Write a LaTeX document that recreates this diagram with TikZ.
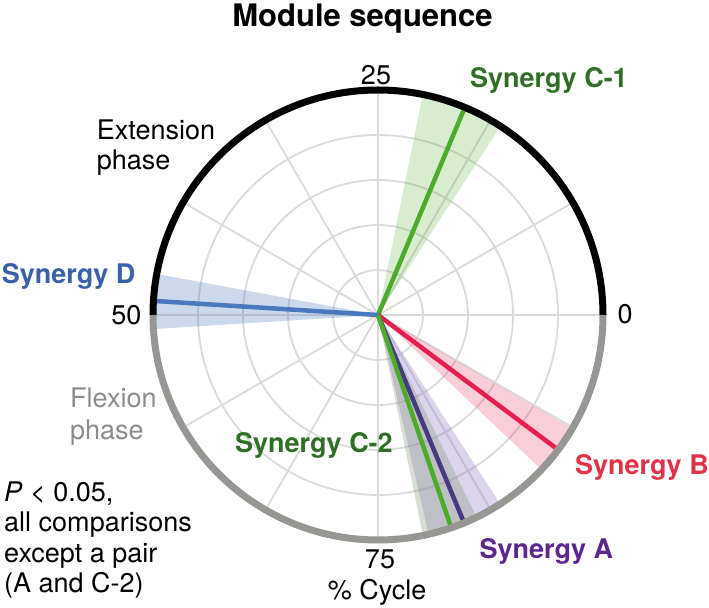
\documentclass[tikz,border=0pt]{standalone}
\usepackage{fontspec}
\setmainfont{TeX Gyre Heros}
\definecolor{gridgray}{RGB}{218,218,218}
\definecolor{ringgray}{RGB}{150,150,146}
\definecolor{lngreen}{RGB}{76,172,42}
\definecolor{labgreen}{RGB}{48,112,38}
\definecolor{lnblue}{RGB}{72,120,190}
\definecolor{labblue}{RGB}{58,96,170}
\definecolor{lnred}{RGB}{232,30,80}
\definecolor{labred}{RGB}{226,50,72}
\definecolor{lnpurple}{RGB}{72,58,128}
\definecolor{labpurple}{RGB}{92,40,142}
\definecolor{shpurple}{RGB}{140,110,195}
\definecolor{shgreytwo}{RGB}{120,150,105}
\definecolor{flexgray}{RGB}{140,140,140}
\begin{document}
\begin{tikzpicture}[x=1bp,y=1bp,
  lab/.style={inner sep=0pt, font=\fontsize{27bp}{30.5bp}\selectfont},
  blab/.style={inner sep=0pt, font=\fontsize{27bp}{30.5bp}\selectfont\bfseries},
  gridline/.style={draw=gridgray, line width=1.8bp},
  ray/.style={line width=4.5bp},
  ringline/.style={line width=7bp}]
\useasboundingbox (0,0) rectangle (709,608);
\coordinate (O) at (378,293);
% grid
\foreach \r in {45,90,135,180} \draw[gridline] (O) circle[radius=\r];
\foreach \a in {0,30,...,330} \draw[gridline] (O) -- ([shift={(\a:225)}]O);
% shaded ranges
\fill[lngreen, opacity=0.22] (O) -- ([shift={(57:225)}]O) arc[start angle=57, end angle=78.5, radius=225] -- cycle;
\fill[lnblue, opacity=0.28] (O) -- ([shift={(169.5:225)}]O) arc[start angle=169.5, end angle=183.6, radius=225] -- cycle;
\fill[lnred, opacity=0.22] (O) -- ([shift={(-43.4:225)}]O) arc[start angle=-43.4, end angle=-30.3, radius=225] -- cycle;
\fill[shpurple, opacity=0.3] (O) -- ([shift={(-77:225)}]O) arc[start angle=-77, end angle=-57.1, radius=225] -- cycle;
\fill[shgreytwo, opacity=0.3] (O) -- ([shift={(-78.5:225)}]O) arc[start angle=-78.5, end angle=-64, radius=225] -- cycle;
% rays
\coordinate (eC1) at ([shift={(67.3:225)}]O);
\coordinate (eD) at ([shift={(176.4:225)}]O);
\coordinate (eB) at ([shift={(-36.8:225)}]O);
\coordinate (eA) at ([shift={(-67.5:225)}]O);
\coordinate (eC2) at ([shift={(-71:225)}]O);
\draw[ray, lngreen] (O) -- (eC1);
\draw[ray, lnblue] (O) -- (eD);
\draw[ray, lnred] (O) -- (eB);
\draw[ray, lnpurple] (O) -- (eA);
\draw[ray, lngreen] (O) -- (eC2);
% ring
\draw[ringline, black] ([shift={(0:225)}]O) arc[start angle=0, end angle=180, radius=225];
\draw[ringline, ringgray] ([shift={(180:225)}]O) arc[start angle=180, end angle=360, radius=225];
% texts
\node[inner sep=0pt, font=\fontsize{31bp}{34bp}\selectfont\bfseries, anchor=base] (title) at (362.5,581) {Module sequence};
\node[lab, anchor=base] (t25) at (376,523) {25};
\node[lab, anchor=base east] (t50) at (141.7,283) {50};
\node[lab, anchor=base west] (t0) at (617.3,284) {0};
\node[lab, anchor=base] (t75) at (380,39.7) {75};
\node[lab, anchor=base] (cyc) at (377,8) {\% Cycle};
\node[blab, text=labgreen, anchor=base west] (sC1) at (470,520) {Synergy C-1};
\node[blab, text=labblue, anchor=base west] (sD) at (1.7,324) {Synergy D};
\node[blab, text=labred, anchor=base west] (sB) at (575,133) {Synergy B};
\node[blab, text=labpurple, anchor=base west] (sA) at (479.3,49) {Synergy A};
\node[blab, text=labgreen, anchor=base west] (sC2) at (235,155.3) {Synergy C-2};
\node[inner sep=0pt, font=\fontsize{27bp}{30bp}\selectfont, align=left, anchor=base west] (ext) at (96.7,438) {Extension\\phase};
\node[inner sep=0pt, font=\fontsize{27bp}{32bp}\selectfont, text=flexgray, align=left, anchor=base west] (flex) at (70,168) {Flexion\\phase};
\node[lab, align=left, anchor=base west] (pval) at (4,15) {\textit{P} < 0.05,\\all comparisons\\except a pair\\(A and C-2)};
\end{tikzpicture}
\end{document}
